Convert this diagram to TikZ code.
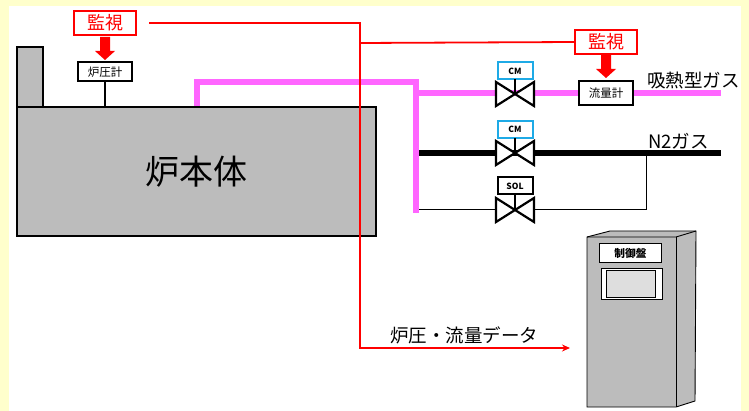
\documentclass[tikz,border=0pt]{standalone}
\usepackage{fontspec}
\setmainfont{Noto Sans CJK JP}
\usetikzlibrary{arrows.meta}
\definecolor{bgy}{RGB}{255,255,204}
\definecolor{gr}{RGB}{188,188,188}
\definecolor{pk}{RGB}{255,102,255}
\definecolor{cmb}{RGB}{30,170,230}
\tikzset{
 x=1pt,y=-1pt,
 every node/.style={outer sep=0pt},
 box/.style={draw=black,line width=2pt,fill=white,inner sep=0pt,anchor=center},
 watch/.style={draw=red,line width=2pt,fill=white,minimum width=62pt,minimum height=24pt,inner sep=0pt,text=red,font=\fontsize{18}{18}\selectfont},
 meter/.style={box,minimum width=54pt,minimum height=19pt,font=\fontsize{11.5}{12}\selectfont},
 actu/.style={draw,line width=2pt,fill=white,minimum width=35pt,minimum height=17pt,inner sep=0pt,font=\fontsize{8.5}{9}\selectfont\bfseries},
 redline/.style={draw=red,line width=1.8pt},
 pinkline/.style={draw=pk,line width=6pt},
 valveline/.style={draw=black,line width=2.2pt,fill=white,line join=miter},
 lbl/.style={inner sep=0pt,font=\fontsize{18.5}{19}\selectfont},
}
\newcommand{\myvalve}[1]{%
 \draw[valveline] (#1)+(-19,-12) -- +(19,12) -- +(19,-12) -- +(-19,12) -- cycle;
}
\newcommand{\blockarrow}[3]{%
 \fill[red] (#1-5,#2) -- (#1+5,#2) -- (#1+5,#3-9) -- (#1+10,#3-9) -- (#1,#3) -- (#1-10,#3-9) -- (#1-5,#3-9) -- cycle;
}
\begin{document}
\begin{tikzpicture}
\useasboundingbox (0,0) rectangle (749,411);
\fill[bgy] (0,0) rectangle (749,411);
\fill[white] (9,6) rectangle (741,411);
% furnace
\node[draw,line width=1.8pt,fill=gr,minimum width=26pt,minimum height=60pt,inner sep=0pt,anchor=north west] (chimney) at (17,47) {};
\node[draw,line width=1.8pt,fill=gr,minimum width=359pt,minimum height=129pt,inner sep=0pt,anchor=north west] (furnace) at (17,107) {};
\node[inner sep=0pt,font=\fontsize{34}{35}\selectfont] (furnlabel) at (196,172) {炉本体};
% pink
\coordinate (p0) at (197,106);
\coordinate (p1) at (416,82);
\coordinate (p2) at (416,213);
\coordinate (pe) at (721,93);
\coordinate (ne) at (721,153);
\draw[pinkline,line cap=butt] (p0) -- (197,82) -- (p1) -- (p2);
\draw[pinkline] (416,93) -- (pe);
\draw[line width=6pt] (419,153) -- (ne);
\draw[line width=1pt] (419,210) -- (646,210) -- (646,153);
% valves
\coordinate (v1) at (515,94);
\coordinate (v2) at (515,153);
\coordinate (v3) at (515,210);
\myvalve{v1}\myvalve{v2}\myvalve{v3}
\node[actu,draw=cmb] (a1) at (515,71) {CM};
\node[actu,draw=cmb] (a2) at (515,129.5) {CM};
\node[actu] (a3) at (515,186) {SOL};
\draw[line width=2pt] (a1) -- (v1);
\draw[line width=2pt] (a2) -- (v2);
\draw[line width=2pt] (a3) -- (v3);
% meters
\node[meter] (pg) at (105,72) {炉圧計};
\node[meter,minimum height=24pt] (fm) at (606,93) {流量計};
\draw[line width=1.2pt] (pg) -- (105,107);
% red lines
\node[watch] (w1) at (105,23) {監視};
\node[watch] (w2) at (606,42) {監視};
\coordinate (r0) at (149,23);
\coordinate (r1) at (360,23);
\coordinate (r2) at (360,348);
\coordinate (r3) at (570,348);
\draw[redline,-{Stealth[length=8pt,width=7pt]}] (r0) -- (r1) -- (r2) -- (r3);
\draw[redline] (360,43) -- (w2.west);
\blockarrow{105}{37}{60}
\blockarrow{606}{55}{78}
% labels
\node[lbl,anchor=west] (l1) at (647,81) {吸熱型ガス};
\node[lbl,anchor=west] (l2) at (648,141) {N2ガス};
\node[lbl,anchor=center] (l3) at (464,335) {炉圧・流量データ};
% panel
\draw[line width=.9pt,fill=gr] (587,237) -- (610,231) -- (696,231) -- (695,401) -- (676,407) -- (587,407) -- cycle;
\draw[line width=.9pt] (587,237) -- (676,237) -- (696,231);
\draw[line width=.9pt] (676,237) -- (676,407);
\node[draw,line width=1pt,fill=white,minimum width=62pt,minimum height=19pt,inner sep=0pt,font=\fontsize{10.7}{11}\selectfont\bfseries] (plabel) at (630.5,253.5) {制御盤};
\node[draw,line width=1pt,fill=white,minimum width=61pt,minimum height=31pt,inner sep=0pt] (pscr) at (631.5,284.5) {};
\node[draw,line width=1pt,fill=black!13,minimum width=49pt,minimum height=27pt,inner sep=0pt] (pin) at (631,284.5) {};
\end{tikzpicture}
\end{document}
